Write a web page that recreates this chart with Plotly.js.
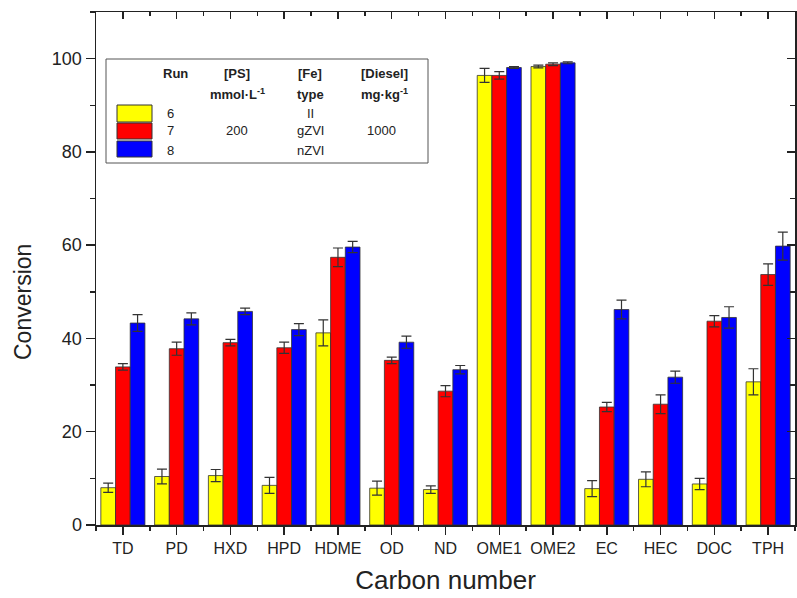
<!DOCTYPE html>
<html>
<head>
<meta charset="utf-8">
<script src="https://cdn.plot.ly/plotly-3.0.1.min.js"></script>
<style>html,body{margin:0;padding:0;background:#fff;}#chart{width:797px;height:598px;}</style>
</head>
<body>
<div id="chart"></div>
<script>
const categories = ['TD','PD','HXD','HPD','HDME','OD','ND','OME1','OME2','EC','HEC','DOC','TPH'];
const run6 = [8.0, 10.4, 10.6, 8.5, 41.2, 7.9, 7.6, 96.4, 98.3, 7.8, 9.8, 8.8, 30.7];
const run6Err = [1.0, 1.6, 1.3, 1.7, 2.8, 1.5, 0.8, 1.5, 0.3, 1.7, 1.6, 1.2, 2.8];
const run7 = [33.9, 37.8, 39.1, 38.0, 57.4, 35.3, 28.7, 96.4, 98.8, 25.3, 25.9, 43.7, 53.7];
const run7Err = [0.7, 1.4, 0.7, 1.2, 2.0, 0.7, 1.2, 0.8, 0.3, 1.0, 2.0, 1.2, 2.3];
const run8 = [43.3, 44.2, 45.8, 41.9, 59.6, 39.2, 33.3, 98.1, 99.1, 46.2, 31.7, 44.5, 59.8];
const run8Err = [1.8, 1.3, 0.7, 1.3, 1.2, 1.3, 0.9, 0.2, 0.2, 2.0, 1.3, 2.3, 3.0];
const runNames = ['6', '7', '8'];
const runColors = ['#ffff00', '#ff0000', '#0000ff'];
const psConc = ['', '200', ''];
const feType = ['II', 'gZVI', 'nZVI'];
const dieselConc = ['', '1000', ''];

const xIdx = categories.map((c, i) => i);
const series = [[run6, run6Err], [run7, run7Err], [run8, run8Err]];

const traces = series.map((s, k) => ({
  type: 'bar',
  name: runNames[k],
  x: xIdx,
  y: s[0],
  marker: {color: runColors[k], line: {color: '#333', width: 0.8}},
  error_y: {type: 'data', array: s[1], visible: true, color: '#333', thickness: 1.2, width: 5},
  showlegend: false
}));
traces.push({x: [0], y: [0], xaxis: 'x2', yaxis: 'y2', mode: 'markers', marker: {opacity: 0}, showlegend: false, hoverinfo: 'skip', type: 'scatter'});

const fontFam = 'Liberation Sans, Arial, sans-serif';

const W = 797, H = 598, ml = 96, mr = 2, mt = 12, mb = 73;
const pw = W - ml - mr, ph = H - mt - mb;
const px = v => (v - ml) / pw;
const py = v => 1 - (v - mt) / ph;

const shapes = [{type: 'rect', xref: 'paper', yref: 'paper', x0: px(106), x1: px(428), y0: py(163), y1: py(59), line: {color: '#555', width: 1}, fillcolor: '#fff'}];
const swY = [[105, 122], [123, 139], [141, 157]];
runColors.forEach((c, k) => shapes.push({type: 'rect', xref: 'paper', yref: 'paper', x0: px(117), x1: px(152), y0: py(swY[k][1]), y1: py(swY[k][0]), line: {color: '#333', width: 1}, fillcolor: c}));

const ann = [];
function txt(t, x, y, bold, size) {
  ann.push({xref: 'paper', yref: 'paper', x: px(x), y: py(y), text: bold ? '<b>' + t + '</b>' : t, showarrow: false, xanchor: 'center', yanchor: 'middle', font: {family: fontFam, size: size || 13, color: '#222'}});
}
txt('Run', 175, 73, true);
txt('[PS]', 237, 73, true);
txt('mmol·L<sup>-1</sup>', 237, 94, true);
txt('[Fe]', 310, 73, true);
txt('type', 310, 94, true);
txt('[Diesel]', 384, 73, true);
txt('mg·kg<sup>-1</sup>', 384, 94, true);
const rowY = [113, 131, 150];
runNames.forEach((r, k) => {
  txt(r, 170, rowY[k]);
  if (psConc[k]) txt(psConc[k], 237, rowY[k]);
  txt(feType[k], 310, rowY[k]);
  if (dieselConc[k]) txt(dieselConc[k], 381, rowY[k]);
});
ann.push({xref: 'paper', yref: 'paper', x: px(23), y: py(302), text: 'Conversion', textangle: -90, showarrow: false, xanchor: 'center', yanchor: 'middle', font: {family: fontFam, size: 23, color: '#222'}});

const layout = {
  width: W, height: H,
  margin: {l: ml, r: mr, t: mt, b: mb},
  paper_bgcolor: '#fff', plot_bgcolor: '#fff',
  barmode: 'group', bargap: 0.18, bargroupgap: 0,
  xaxis: {
    range: [-0.5, 12.5], tickvals: xIdx, ticktext: categories,
    ticks: 'outside', ticklen: 8, tickwidth: 1.5, tickcolor: '#222',
    minor: {tick0: 0.5, dtick: 1, ticks: 'outside', ticklen: 4, tickwidth: 1.5, tickcolor: '#222'},
    showline: true, linecolor: '#222', linewidth: 1.5, showgrid: false, zeroline: false,
    tickfont: {family: fontFam, size: 16, color: '#222'},
    title: {text: 'Carbon number', font: {family: fontFam, size: 26, color: '#222'}, standoff: 15}
  },
  yaxis: {
    range: [0, 110], dtick: 20, tick0: 0,
    ticks: 'outside', ticklen: 9, tickwidth: 1.5, tickcolor: '#222',
    minor: {dtick: 10, ticks: 'outside', ticklen: 5, tickwidth: 1.5, tickcolor: '#222'},
    showline: true, linecolor: '#222', linewidth: 1.5, showgrid: false, zeroline: false,
    tickfont: {family: fontFam, size: 18, color: '#222'}
  },
  xaxis2: {
    overlaying: 'x', side: 'top', anchor: 'y2', range: [-0.5, 12.5], tickvals: xIdx,
    showticklabels: false, ticks: 'inside', ticklen: 7, tickwidth: 1.5, tickcolor: '#222',
    minor: {tick0: 0.5, dtick: 1, ticks: 'inside', ticklen: 4, tickwidth: 1.5, tickcolor: '#222'},
    showline: true, linecolor: '#222', linewidth: 1.5, showgrid: false, zeroline: false
  },
  yaxis2: {
    overlaying: 'y', side: 'right', anchor: 'x2', range: [0, 110], dtick: 20,
    showticklabels: false, ticks: 'inside', ticklen: 8, tickwidth: 1.5, tickcolor: '#222',
    minor: {dtick: 10, ticks: 'inside', ticklen: 5, tickwidth: 1.5, tickcolor: '#222'},
    showline: true, linecolor: '#222', linewidth: 1.5, showgrid: false, zeroline: false
  },
  shapes: shapes,
  annotations: ann,
  showlegend: false
};

Plotly.newPlot('chart', traces, layout, {displayModeBar: false, staticPlot: true});
</script>
</body>
</html>
